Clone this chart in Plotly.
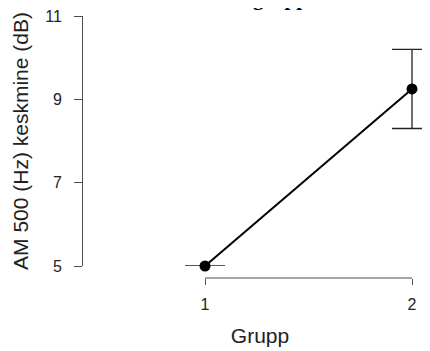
import plotly.graph_objects as go

# group means with error bar half-widths
groups = [1, 2]
means = [5.0, 9.25]
errors = [0.0, 0.95]
y_ticks = [5, 7, 9, 11]
x_ticks = [1, 2]

axis_col = "#4d4d4d"

fig = go.Figure()
fig.add_trace(go.Scatter(
    x=groups, y=means, mode="lines+markers",
    line=dict(color="black", width=2),
    marker=dict(color="black", size=11),
    error_y=dict(type="data", array=errors, visible=True,
                 color="#222222", thickness=1.3, width=20),
    cliponaxis=False, showlegend=False,
))

# R-style detached x axis line, only from first to last tick
fig.add_shape(type="line", xref="x", yref="paper",
              x0=x_ticks[0], x1=x_ticks[-1], y0=0, y1=0,
              line=dict(color=axis_col, width=1))

# title sits mostly above the visible page (cropped in the reference)
fig.add_annotation(
    text="<b>Keskmine grupp</b>", xref="paper", yref="paper",
    x=0.64, y=1.015, xanchor="right", yanchor="bottom", showarrow=False,
    font=dict(family="Liberation Serif", size=21, color="black"),
)

# page body has an 8px margin, so the figure is laid out 8px up/left
L, R, T, B = 74, 0, 8, 81
pw = 430 - L - R
x1_px, x2_px = 197, 404
scale = (x2_px - x1_px) / 1.0

fig.update_layout(
    width=430, height=351,
    margin=dict(l=L, r=R, t=T, b=B),
    plot_bgcolor="white", paper_bgcolor="white",
    font=dict(family="Liberation Sans", color="#222222"),
    xaxis=dict(
        domain=[0, 1],
        range=[1 - (x1_px - L) / scale, 2 + (430 - R - x2_px) / scale],
        anchor="free", position=0, automargin=False,
        tickvals=x_ticks, ticktext=[str(v) for v in x_ticks],
        showline=False,
        ticks="outside", ticklen=6, tickcolor=axis_col, tickwidth=1,
        tickfont=dict(size=16), ticklabelstandoff=6,
        showgrid=False, zeroline=False,
        title=dict(text="Grupp", font=dict(size=21), standoff=16),
    ),
    yaxis=dict(
        domain=[12 / 262, 1], range=[5, 11],
        anchor="free", position=0, automargin=False,
        tickvals=y_ticks, ticklabeloverflow="allow",
        showline=True, linecolor=axis_col, linewidth=1,
        ticks="outside", ticklen=8, tickcolor=axis_col, tickwidth=1,
        tickfont=dict(size=16), ticklabelstandoff=9,
        showgrid=False, zeroline=False,
        title=dict(text="AM 500 (Hz) keskmine (dB)", font=dict(size=21), standoff=9),
    ),
)

fig.write_html("out.html")
